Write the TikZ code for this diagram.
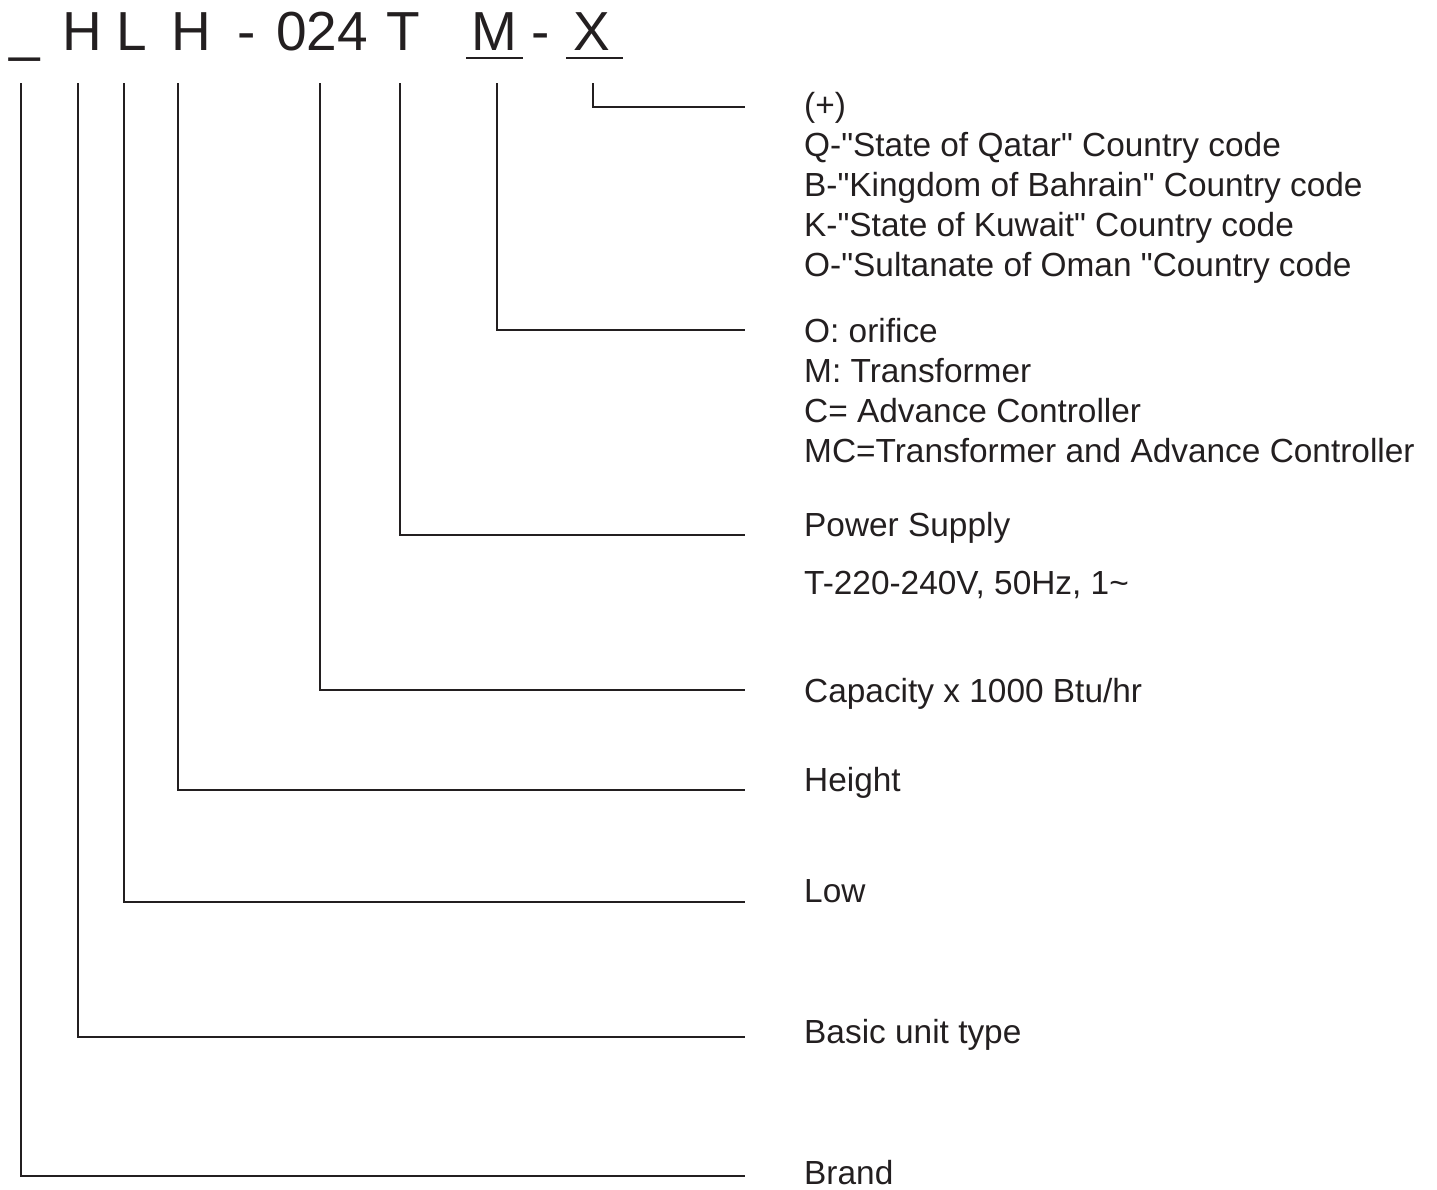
\documentclass[tikz,border=0pt]{standalone}
\usepackage{fontspec}
\setmainfont{Liberation Sans}[Ligatures=TeXOff]
\definecolor{ink}{HTML}{231F20}
\begin{document}
\begin{tikzpicture}[x=1pt,y=-1pt,
  hdr/.style={inner sep=0pt,anchor=base,text=ink,font=\fontsize{55}{60}\selectfont},
  lbl/.style={inner sep=0pt,anchor=base west,text=ink,font=\fontsize{33.4}{40}\selectfont},
  conn/.style={draw=ink,line width=2pt},
  uline/.style={draw=ink,line width=2.5pt}]
\useasboundingbox (0,0) rectangle (1437,1189);
% header code
\node[hdr] (c0) at (25,50) {\_};
\node[hdr] (c1) at (82,50) {H};
\node[hdr] (c2) at (132,50) {L};
\node[hdr] (c3) at (191,50) {H};
\node[hdr] (c4) at (247,50) {-};
\node[hdr] (c5) at (322,50) {024};
\node[hdr] (c6) at (403,50) {T};
\node[hdr] (c7) at (494,50) {M};
\node[hdr] (c8) at (541,50) {-};
\node[hdr] (c9) at (592,50) {X};
\draw[uline] (466,58) -- (523,58);
\draw[uline] (566,58) -- (623,58);
% connector tops
\coordinate (t0) at (21,83);
\coordinate (t1) at (78,83);
\coordinate (t2) at (124,83);
\coordinate (t3) at (178,83);
\coordinate (t5) at (320,83);
\coordinate (t6) at (400,83);
\coordinate (t7) at (497,83);
\coordinate (t9) at (593,83);
% connector ends
\coordinate (e0) at (745,1176);
\coordinate (e1) at (745,1037);
\coordinate (e2) at (745,902);
\coordinate (e3) at (745,790);
\coordinate (e5) at (745,690);
\coordinate (e6) at (745,535);
\coordinate (e7) at (745,330);
\coordinate (e9) at (745,107);
\foreach \i in {0,1,2,3,5,6,7,9} {\draw[conn] (t\i) |- (e\i);}
% labels
\node[lbl] (x1) at (804,116) {(+)};
\node[lbl] (x2) at (804,156) {Q-"State of Qatar" Country code};
\node[lbl] (x3) at (804,196) {B-"Kingdom of Bahrain" Country code};
\node[lbl] (x4) at (804,236) {K-"State of Kuwait" Country code};
\node[lbl] (x5) at (804,276) {O-"Sultanate of Oman "Country code};
\node[lbl] (m1) at (804,342) {O: orifice};
\node[lbl] (m2) at (804,382) {M: Transformer};
\node[lbl] (m3) at (804,422) {C= Advance Controller};
\node[lbl] (m4) at (804,462) {MC=Transformer and Advance Controller};
\node[lbl] (p1) at (804,536) {Power Supply};
\node[lbl] (p2) at (804,594) {T-220-240V, 50Hz, 1\char"007E};
\node[lbl] (cap) at (804,702) {Capacity x 1000 Btu/hr};
\node[lbl] (hgt) at (804,791) {Height};
\node[lbl] (low) at (804,902) {Low};
\node[lbl] (bas) at (804,1043) {Basic unit type};
\node[lbl] (brd) at (804,1184) {Brand};
\end{tikzpicture}
\end{document}
